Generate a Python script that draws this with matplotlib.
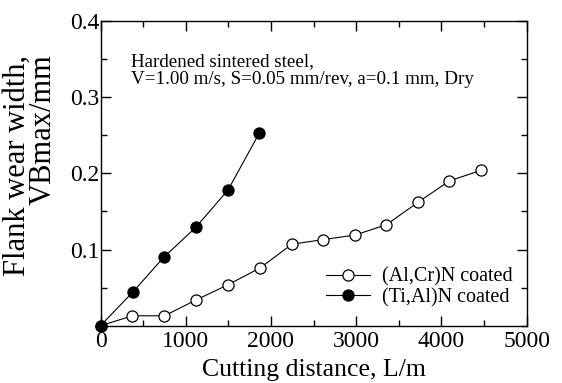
import matplotlib
matplotlib.use("Agg")
import matplotlib.pyplot as plt
from matplotlib.ticker import MultipleLocator, FixedLocator

plt.rcParams['font.family'] = ['Liberation Serif', 'DejaVu Serif']

# Data
alcr_x = [0, 375, 750, 1125, 1500, 1875, 2246, 2611, 2985, 3354, 3724, 4093, 4462]
alcr_y = [0.0, 0.013, 0.013, 0.034, 0.054, 0.076, 0.107, 0.113, 0.119, 0.1325, 0.162, 0.190, 0.204]
tial_x = [0, 378, 743, 1117, 1495, 1864]
tial_y = [0.0, 0.044, 0.090, 0.129, 0.178, 0.253]

xticks = [0, 1000, 2000, 3000, 4000, 5000]
yticks = [0.1, 0.2, 0.3, 0.4]
ytick_labels = ['0.1', '0.2', '0.3', '0.4']

W, H = 562, 383
fig = plt.figure(figsize=(W/100, H/100), dpi=100)
L, R, T, B = 100.5, 526.7, 21.0, 325.7
ax = fig.add_axes([L/W, 1-B/H, (R-L)/W, (B-T)/H])

ax.plot(alcr_x, alcr_y, '-o', color='black', lw=0.8, mfc='white', mec='black',
        mew=0.9, ms=8, label='(Al,Cr)N coated', clip_on=False, zorder=3)
ax.plot(tial_x, tial_y, '-o', color='black', lw=0.8, mfc='black', mec='black',
        mew=0.9, ms=8, label='(Ti,Al)N coated', clip_on=False, zorder=4)

ax.set_xlim(0, 5000)
ax.set_ylim(0, 0.4)
ax.set_xticks(xticks)
ax.set_xticklabels([str(v) for v in xticks])
ax.yaxis.set_major_locator(FixedLocator(yticks))
ax.set_yticklabels(ytick_labels)
ax.xaxis.set_minor_locator(MultipleLocator(500))
ax.yaxis.set_minor_locator(MultipleLocator(0.05))

ax.tick_params(which='both', direction='in', top=True, right=True, width=1.0)
ax.tick_params(which='major', length=7)
ax.tick_params(which='minor', length=4)
ax.tick_params(axis='x', which='major', labelsize=17, pad=4)
ax.tick_params(axis='y', which='major', labelsize=17, pad=1)
for s in ax.spines.values():
    s.set_linewidth(1.0)

ax.set_xlabel('Cutting distance, L/m', fontsize=18.5, labelpad=4.5)
ax.set_ylabel('Flank wear width,\nVBmax/mm', fontsize=22, linespacing=0.85,
              multialignment='right')
ax.yaxis.label.set_verticalalignment('center')
ax.yaxis.label.set_horizontalalignment('center')
ax.yaxis.set_label_coords((30 - L)/(R - L), 1 - (165 - T)/(B - T))

ax.text(0.072, 0.895, 'Hardened sintered steel,\nV=1.00 m/s, S=0.05 mm/rev, a=0.1 mm, Dry',
        transform=ax.transAxes, fontsize=13.7, va='top', ha='left', linespacing=1.05)

leg = ax.legend(loc='lower right', bbox_to_anchor=(1.0, 0.015), frameon=False,
                fontsize=14.5, handlelength=2.2, handletextpad=0.6,
                labelspacing=0.05, borderaxespad=0.3)

fig.savefig('out.png', dpi=100)
